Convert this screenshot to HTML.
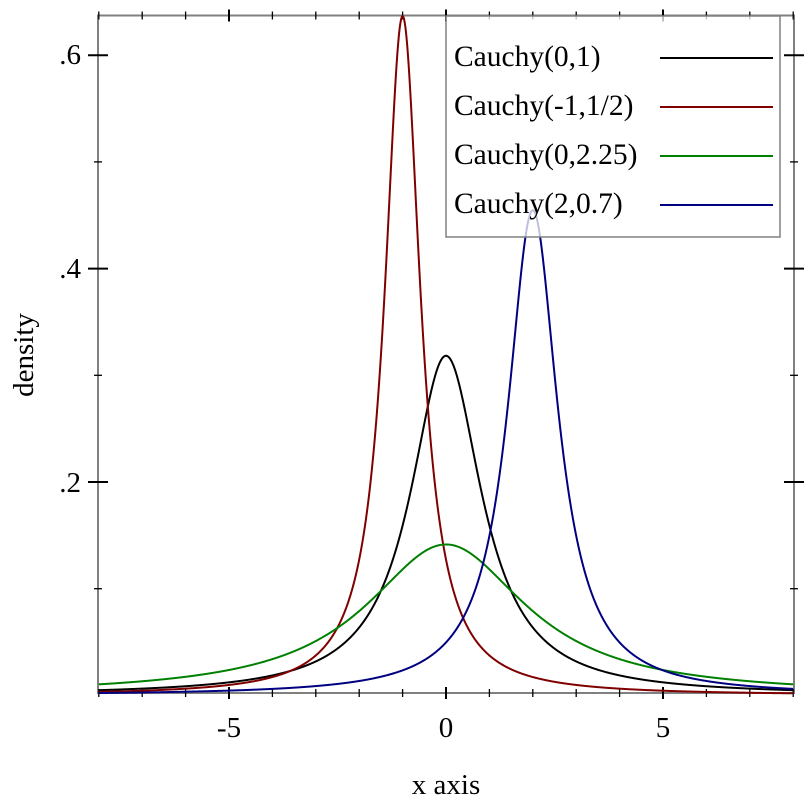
<!DOCTYPE html><html><head><style>body{margin:0;background:#fff}svg{display:block}</style></head><body>
<svg id="s" width="812" height="812" xmlns="http://www.w3.org/2000/svg" font-family="Liberation Serif, serif">
<rect width="812" height="812" fill="#fff"/>
<g id="ax" stroke="#808080" stroke-width="2" fill="none">
<rect x="98" y="15.5" width="696" height="677.5"/>
</g>
<g id="tk" stroke="#000"></g>
<g id="cv" fill="none" stroke-width="2"></g>
<g font-size="29" fill="#000" text-anchor="middle">
<text x="229" y="737">-5</text><text x="446" y="737">0</text><text x="663" y="737">5</text>
<text x="446" y="794">x axis</text>
<text x="81" y="64" text-anchor="end">.6</text>
<text x="81" y="278" text-anchor="end">.4</text>
<text x="81" y="492" text-anchor="end">.2</text>
<text transform="translate(33,355) rotate(-90)">density</text>
</g>
<rect x="446" y="16" width="334" height="221" fill="#fff" fill-opacity="0.75" stroke="#808080" stroke-width="1.5"/>
<g font-size="29.5" fill="#000">
<text x="454" y="66">Cauchy(0,1)</text>
<text x="454" y="115">Cauchy(-1,1/2)</text>
<text x="454" y="164">Cauchy(0,2.25)</text>
<text x="454" y="213">Cauchy(2,0.7)</text>
</g>
<g stroke-width="2">
<line x1="660" x2="773" y1="58" y2="58" stroke="#000"/>
<line x1="660" x2="773" y1="107" y2="107" stroke="#800000"/>
<line x1="660" x2="773" y1="156" y2="156" stroke="#008000"/>
<line x1="660" x2="773" y1="205" y2="205" stroke="#000080"/>
</g>
</svg>
<script>
var X=function(x){return 446+x*43.4},Y=function(y){return 695.4-y*1067};
var tk=document.getElementById('tk'),h='';
for(var i=-8;i<=8;i++){var x=X(i),m=(i%5==0),l=m?6:4,w=m?2:1.3;
h+='<line x1="'+x+'" x2="'+x+'" y1="'+(15.5-l)+'" y2="'+(15.5+l)+'" stroke-width="'+w+'"/>';
h+='<line x1="'+x+'" x2="'+x+'" y1="'+(693-l)+'" y2="'+(693+l)+'" stroke-width="'+w+'"/>';}
for(var j=1;j<=6;j++){var y=Y(j/10),m=(j%2==0),l=m?10:4,w=m?2:1.3;
h+='<line y1="'+y+'" y2="'+y+'" x1="'+(98-l)+'" x2="'+(98+l)+'" stroke-width="'+w+'"/>';
h+='<line y1="'+y+'" y2="'+y+'" x1="'+(794-l)+'" x2="'+(794+l)+'" stroke-width="'+w+'"/>';}
tk.innerHTML=h;
var cs=[[0,1,'#000'],[-1,.5,'#800000'],[0,2.25,'#008000'],[2,.7,'#000080']],c='';
cs.forEach(function(p){var d='';for(var k=0;k<=1600;k++){var x=-8+16*k/1600,f=p[1]/(Math.PI*((x-p[0])*(x-p[0])+p[1]*p[1]));d+=(k?'L':'M')+X(x).toFixed(2)+','+Y(f).toFixed(2);}
c+='<path d="'+d+'" stroke="'+p[2]+'"/>';});
document.getElementById('cv').innerHTML=c;
</script>
</body></html>
